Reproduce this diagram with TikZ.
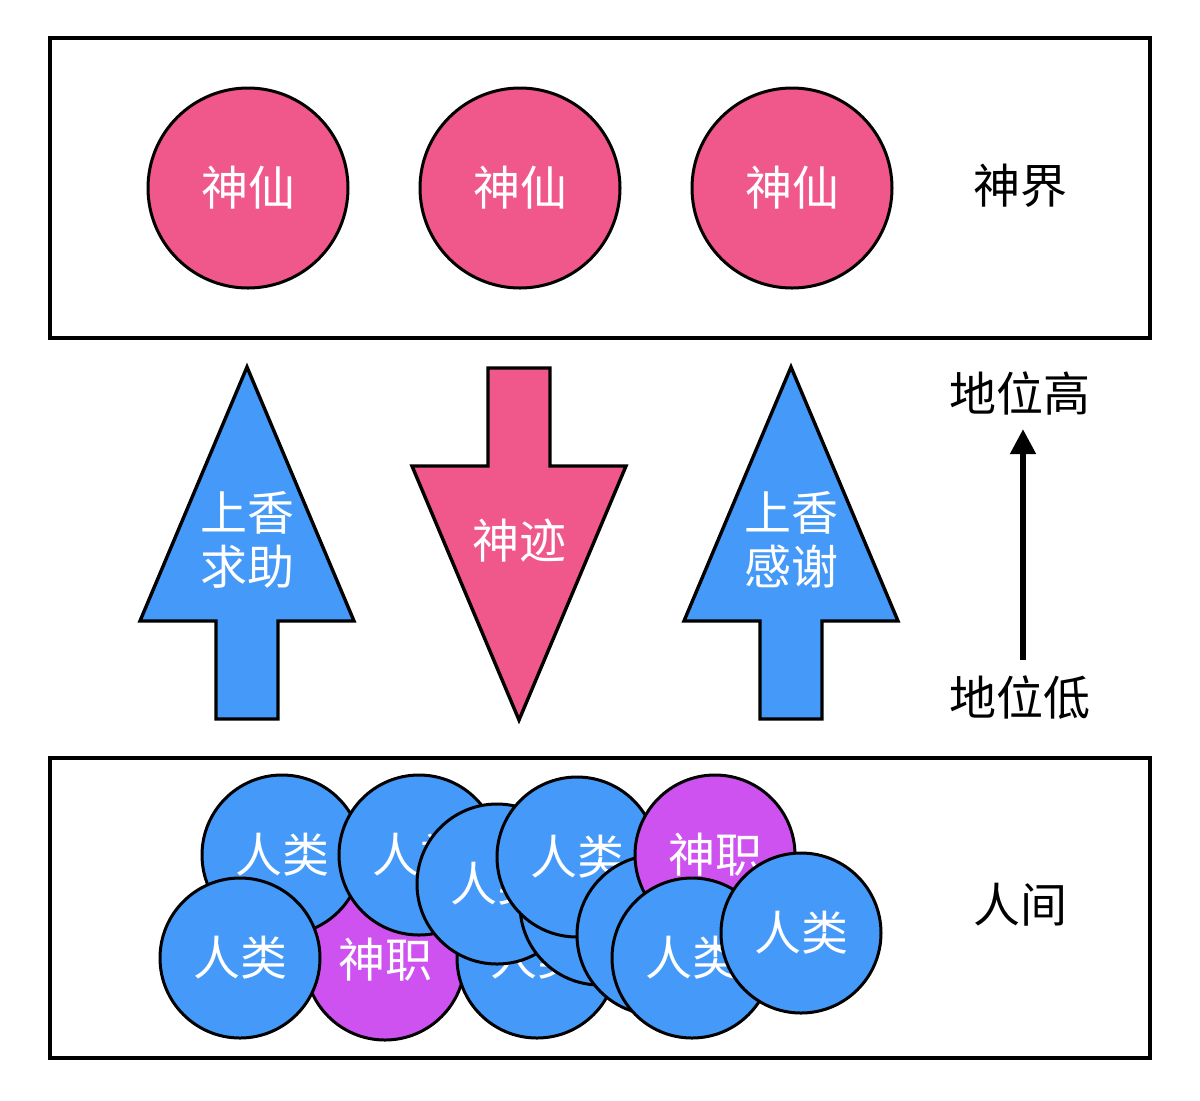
\documentclass[tikz,border=0pt]{standalone}
\usepackage{fontspec}
\newfontfamily\cjk{Noto Sans CJK SC}
\usepackage{tikz}
\usetikzlibrary{arrows.meta}

\definecolor{deitypink}{HTML}{F0588C}
\definecolor{humanblue}{HTML}{4499F9}
\definecolor{priestpurple}{HTML}{CE52F0}

\begin{document}
\begin{tikzpicture}[
				x=0.5pt, y=-0.5pt,
				every node/.style={font=\cjk\fontsize{23.5}{27}\selectfont},
				realm/.style={
						draw,
						rectangle,
						line width=1.9pt,
						minimum width=550pt,
						minimum height=150pt
					},
				deity/.style={circle, draw, line width=1.5pt, fill=deitypink, text=white, minimum size=100pt, inner sep=0pt},
				human/.style={circle, draw, line width=1.5pt, fill=humanblue, text=white, minimum size=80pt, inner sep=0pt},
				priest/.style={human, fill=priestpurple},
				bigarrow/.style={draw, line width=1.7pt, line join=miter},
				arrowtext/.style={text=white, align=center},
				sidetext/.style={inner sep=0pt},
				rankarrow/.style={-{Triangle[length=12.5pt, width=12.5pt]}, line width=2.6pt}
			]
		\useasboundingbox (0,0) rectangle (1200,1100);

		% Two realms
		\node[realm] (heaven) at (600,188) {};
		\node[realm] (earth) at (600,908) {};

		% Deities in the upper realm
		\foreach \x/\name in {248/deityA, 520/deityB, 792/deityC} {
				\node[deity] (\name) at (\x,188) {神仙};
			}
		\node[sidetext] (heavenlabel) at (1020,186) {神界};

		% Crowd of people in the lower realm (drawn back to front)
		\foreach \x/\y/\kind/\txt [count=\i] in {
				385/960/priest/神职, 537/958/human/人类, 282/855/human/人类,
				419/855/human/人类, 240/958/human/人类, 497/884/human/人类,
				600/905/human/{}, 577/857/human/人类, 657/935/human/{},
				715/855/priest/神职, 692/958/human/人类, 801/933/human/人类} {
				\node[\kind] (person\i) at (\x,\y) {\txt};
			}
		\node[sidetext] (earthlabel) at (1020,905) {人间};

		% Offerings going up
		\foreach \cx/\name in {247/askshape, 791/thankshape} {
				\draw[bigarrow, fill=humanblue] (\cx-31,719) -- (\cx-31,621) -- (\cx-107,621) -- (\cx,367)
				-- (\cx+107,621) -- (\cx+31,621) -- (\cx+31,719) -- cycle;
			}
		\node[arrowtext] (ask) at (247,540) {上香\\求助};
		\node[arrowtext] (thank) at (791,540) {上香\\感谢};

		% Miracle coming down
		\draw[bigarrow, fill=deitypink] (488,368) -- (550,368) -- (550,466) -- (626,466)
		-- (519,720) -- (412,466) -- (488,466) -- cycle;
		\node[arrowtext] (miracle) at (519,541) {神迹};

		% Status scale
		\node[sidetext] (high) at (1020,393) {地位高};
		\node[sidetext] (low) at (1020,698) {地位低};
		\draw[rankarrow, shorten <=8pt, shorten >=7pt] ([xshift=1.5pt]low.north) -- ([xshift=1.5pt]high.south);
	\end{tikzpicture}
\end{document}
